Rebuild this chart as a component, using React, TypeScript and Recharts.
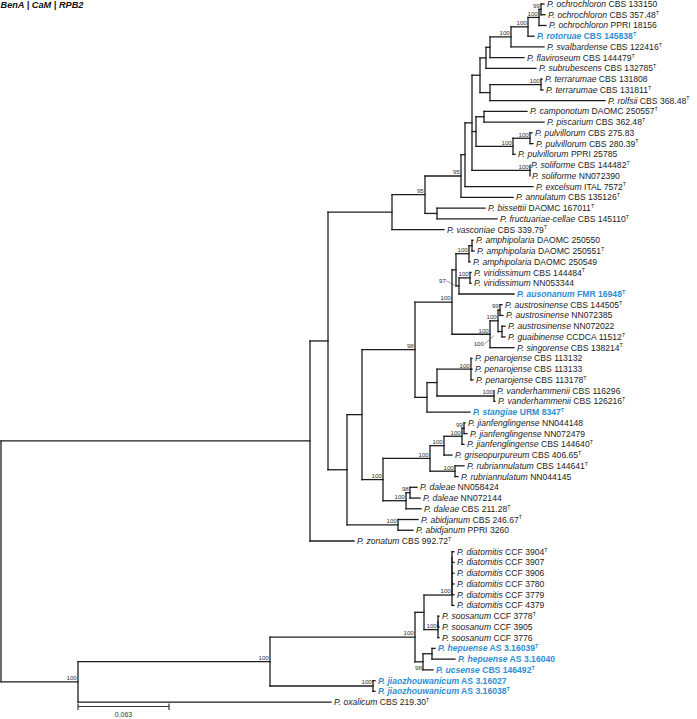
import React from 'react';
import { ComposedChart, XAxis, YAxis, Scatter, ReferenceLine } from 'recharts';

// leaves, top to bottom
const species = [
  'ochrochloron', 'ochrochloron', 'ochrochloron', 'rotoruae', 'svalbardense', 'flaviroseum', 'subrubescens',
  'terrarumae', 'terrarumae', 'rolfsii', 'camponotum', 'piscarium', 'pulvillorum', 'pulvillorum', 'pulvillorum',
  'soliforme', 'soliforme', 'excelsum', 'annulatum', 'bissettii', 'fructuariae-cellae', 'vasconiae',
  'amphipolaria', 'amphipolaria', 'amphipolaria', 'viridissimum', 'viridissimum', 'ausonanum',
  'austrosinense', 'austrosinense', 'austrosinense', 'guaibinense', 'singorense', 'penarojense', 'penarojense',
  'penarojense', 'vanderhammenii', 'vanderhammenii', 'stangiae', 'jianfenglingense', 'jianfenglingense',
  'jianfenglingense', 'griseopurpureum', 'rubriannulatum', 'rubriannulatum', 'daleae', 'daleae', 'daleae',
  'abidjanum', 'abidjanum', 'zonatum', 'diatomitis', 'diatomitis', 'diatomitis', 'diatomitis', 'diatomitis',
  'diatomitis', 'soosanum', 'soosanum', 'soosanum', 'hepuense', 'hepuense', 'ucsense', 'jiaozhouwanicum',
  'jiaozhouwanicum', 'oxalicum',
];

const strains = [
  'CBS 133150', 'CBS 357.48', 'PPRI 18156', 'CBS 145838', 'CBS 122416', 'CBS 144479', 'CBS 132785',
  'CBS 131808', 'CBS 131811', 'CBS 368.48', 'DAOMC 250557', 'CBS 362.48', 'CBS 275.83', 'CBS 280.39',
  'PPRI 25785', 'CBS 144482', 'NN072390', 'ITAL 7572', 'CBS 135126', 'DAOMC 167011', 'CBS 145110',
  'CBS 339.79', 'DAOMC 250550', 'DAOMC 250551', 'DAOMC 250549', 'CBS 144484', 'NN053344', 'FMR 16948',
  'CBS 144505', 'NN072385', 'NN072022', 'CCDCA 11512', 'CBS 138214', 'CBS 113132', 'CBS 113133',
  'CBS 113178', 'CBS 116296', 'CBS 126216', 'URM 8347', 'NN044148', 'NN072479', 'CBS 144640', 'CBS 406.65',
  'CBS 144641', 'NN044145', 'NN058424', 'NN072144', 'CBS 211.28', 'CBS 246.67', 'PPRI 3260', 'CBS 992.72',
  'CCF 3904', 'CCF 3907', 'CCF 3906', 'CCF 3780', 'CCF 3779', 'CCF 4379', 'CCF 3778', 'CCF 3905', 'CCF 3776',
  'AS 3.16039', 'AS 3.16040', 'CBS 146492', 'AS 3.16027', 'AS 3.16038', 'CBS 219.30',
];

// ex-type strains (superscript T) and newly described species (blue)
const typeStrains = [1, 3, 4, 5, 6, 8, 9, 10, 11, 13, 15, 17, 18, 19, 20, 21, 23, 25, 27, 28, 31, 32, 35, 37, 38,
  41, 42, 43, 47, 48, 50, 51, 57, 60, 62, 64, 65];
const newSpecies = [3, 27, 38, 60, 61, 62, 63, 64];

// distance from root of each tip (scale bar: 91 = 0.063)
const tipDepth = [
  544, 545, 546, 534, 544, 524, 536, 542, 543, 605,
  527, 544, 532, 533, 515, 528, 529, 533, 513, 485,
  497, 444, 473, 474, 470, 471, 471, 514, 502, 503,
  505, 505, 514, 472, 472, 473, 494, 495, 470, 465,
  467, 464, 452, 464, 458, 417, 420, 421, 418, 413,
  354, 454, 454, 454, 454, 454, 454, 439, 439, 439,
  435, 455, 433, 375, 375, 331,
];

type Clade = { id: string; depth: number; kids: (number | string)[]; support?: string };

const clades: Clade[] = [
  { id: 'och99', depth: 541, kids: [0, 1], support: '99' },
  { id: 'och100', depth: 539, kids: ['och99', 2], support: '100' },
  { id: 'rot', depth: 528, kids: ['och100', 3], support: '100' },
  { id: 'sval', depth: 511, kids: ['rot', 4], support: '100' },
  { id: 'flav', depth: 490, kids: ['sval', 5] },
  { id: 'subr', depth: 486, kids: ['flav', 6] },
  { id: 'terr', depth: 541, kids: [7, 8], support: '100' },
  { id: 'rolf', depth: 490, kids: ['terr', 9] },
  { id: 'c2', depth: 480, kids: ['subr', 'rolf'] },
  { id: 'pisc', depth: 484, kids: [10, 11] },
  { id: 'pulv1', depth: 530, kids: [12, 13], support: '100' },
  { id: 'pulv', depth: 513, kids: ['pulv1', 14], support: '100' },
  { id: 'z', depth: 476, kids: ['pisc', 'pulv'] },
  { id: 'sol', depth: 530, kids: [15, 16], support: '100' },
  { id: 'x', depth: 472, kids: ['c2', 'z', 'sol'] },
  { id: 'w', depth: 465, kids: ['x', 17] },
  { id: 'b95', depth: 461, kids: ['w', 18], support: '95' },
  { id: 'biss', depth: 437, kids: [19, 20] },
  { id: 'a95', depth: 425, kids: ['b95', 'biss'], support: '95' },
  { id: 'n392', depth: 392, kids: ['a95', 21] },
  { id: 'amp1', depth: 472, kids: [22, 23] },
  { id: 'amp', depth: 469, kids: ['amp1', 24], support: '100' },
  { id: 'vir', depth: 470, kids: [25, 26], support: '100' },
  { id: 's97', depth: 459, kids: ['vir', 27], support: '97' },
  { id: 'sa', depth: 456, kids: ['amp', 's97'] },
  { id: 'aus99', depth: 500, kids: [28, 29], support: '99' },
  { id: 'gua', depth: 502, kids: [30, 31], support: '100' },
  { id: 'aus100', depth: 498, kids: ['aus99', 'gua'], support: '100' },
  { id: 'austro', depth: 490, kids: ['aus100', 32], support: '100' },
  { id: 'n100', depth: 452, kids: ['sa', 'austro'], support: '100' },
  { id: 'pen', depth: 471, kids: [33, 34, 35], support: '100' },
  { id: 'van', depth: 494, kids: [36, 37], support: '100' },
  { id: 'n437', depth: 437, kids: ['pen', 'van'] },
  { id: 'n427', depth: 427, kids: ['n437', 38] },
  { id: 'n98', depth: 415, kids: ['n100', 'n427'], support: '98' },
  { id: 'jian99', depth: 464, kids: [39, 40], support: '99' },
  { id: 'jian100', depth: 462, kids: ['jian99', 41], support: '100' },
  { id: 'jian', depth: 444, kids: ['jian100', 42], support: '100' },
  { id: 'rubri', depth: 455, kids: [43, 44], support: '100' },
  { id: 'f', depth: 430, kids: ['jian', 'rubri'], support: '100' },
  { id: 'dal98', depth: 410, kids: [45, 46], support: '98' },
  { id: 'dal', depth: 406, kids: ['dal98', 47], support: '100' },
  { id: 'e', depth: 383, kids: ['f', 'dal'], support: '100' },
  { id: 'd', depth: 362, kids: ['n98', 'e'] },
  { id: 'abid', depth: 398, kids: [48, 49], support: '100' },
  { id: 'c', depth: 347, kids: ['d', 'abid'] },
  { id: 'b', depth: 328, kids: ['n392', 'c'] },
  { id: 'a', depth: 310, kids: ['b', 50] },
  { id: 'dia1', depth: 452, kids: [51, 52] },
  { id: 'dia2', depth: 452, kids: ['dia1', 53] },
  { id: 'dia3', depth: 452, kids: ['dia2', 54] },
  { id: 'dia4', depth: 452, kids: ['dia3', 55] },
  { id: 'dia', depth: 452, kids: ['dia4', 56], support: '100' },
  { id: 'soo1', depth: 438, kids: [57, 58] },
  { id: 'soo', depth: 438, kids: ['soo1', 59], support: '100' },
  { id: 'ds', depth: 424, kids: ['dia', 'soo'] },
  { id: 'hep2', depth: 432, kids: [60, 61] },
  { id: 'hep', depth: 423, kids: ['hep2', 62], support: '98' },
  { id: 'dg', depth: 415, kids: ['ds', 'hep'], support: '100' },
  { id: 'jiao', depth: 373, kids: [63, 64], support: '100' },
  { id: 'ingr', depth: 270, kids: ['dg', 'jiao'], support: '100' },
  { id: 'bot', depth: 78, kids: ['ingr', 65], support: '100' },
  { id: 'root', depth: 1, kids: ['a', 'bot'] },
];

const SCALE_START = 78;
const SCALE_LEN = 91;
const SCALE_TEXT = '0.063';

const W = 697;
const H = 719;
const ROW0 = 4;
const ROW = 10.74;
const yDomain: [number, number] = [-ROW0 / ROW, (H - ROW0) / ROW];
const pxToRow = (px: number) => (px - ROW0) / ROW;

const BLUE = '#2f8dd3';
const INK = '#1c1c1c';
const FONT = '"Liberation Sans", Arial, sans-serif';

const cladeMap = new Map(clades.map((c) => [c.id, c]));
const yCache = new Map<string, number>();
const yOf = (k: number | string): number => {
  if (typeof k === 'number') return k;
  if (yCache.has(k)) return yCache.get(k)!;
  const c = cladeMap.get(k)!;
  const v = (yOf(c.kids[0]) + yOf(c.kids[c.kids.length - 1])) / 2;
  yCache.set(k, v);
  return v;
};
const xOf = (k: number | string) => (typeof k === 'number' ? tipDepth[k] : cladeMap.get(k)!.depth);

const segments: { x1: number; y1: number; x2: number; y2: number }[] = [];
clades.forEach((c) => {
  const first = yOf(c.kids[0]);
  const last = yOf(c.kids[c.kids.length - 1]);
  segments.push({ x1: c.depth, y1: first, x2: c.depth, y2: last });
  c.kids.forEach((k) => {
    if (xOf(k) > c.depth) segments.push({ x1: c.depth, y1: yOf(k), x2: xOf(k), y2: yOf(k) });
  });
});

const leafData = species.map((s, i) => ({
  x: tipDepth[i],
  y: i,
  species: s,
  strain: strains[i],
  isType: typeStrains.includes(i),
  isNew: newSpecies.includes(i),
}));

const supportData = clades
  .filter((c) => c.support)
  .map((c) => ({ x: c.depth, y: yOf(c.id), id: c.id, support: c.support }));

// labels moved off their node, drawn with a small leader
const nudges: Record<string, { dx: number; dy: number; lead?: [number, number] }> = {
  s97: { dx: -13, dy: -3, lead: [-3, 0] },
  gua: { dx: -18, dy: 14.5, lead: [-8, 4] },
  hep: { dx: -1, dy: 8 },
};

const LeafLabel = (props: any) => {
  const { cx, cy, payload } = props;
  const color = payload.isNew ? BLUE : INK;
  return (
    <text x={cx + 3} y={cy} dy="0.35em" fontSize={8.6} fontFamily={FONT} fill={color}
      fontWeight={payload.isNew ? 700 : 400}>
      <tspan fontStyle="italic">P. {payload.species}</tspan>
      <tspan> {payload.strain}</tspan>
      {payload.isType && <tspan dy={-3.2} fontSize={5.4}>T</tspan>}
    </text>
  );
};

const SupportLabel = (props: any) => {
  const { cx, cy, payload } = props;
  const n = nudges[payload.id];
  const tx = cx + (n ? n.dx : -1.2);
  const ty = cy + (n ? n.dy : -1.6);
  return (
    <g>
      <text x={tx} y={ty} textAnchor="end" fontSize={6.2} fontFamily={FONT} fill="#333">
        {payload.support}
      </text>
      {n && n.lead && (
        <line x1={tx + 0.5} y1={ty - 2} x2={cx + n.lead[0]} y2={cy + n.lead[1]} stroke="#555" strokeWidth={0.6} />
      )}
    </g>
  );
};

const ScaleText = (props: any) => {
  const { cx, cy } = props;
  return (
    <text x={cx} y={cy} dy={4.6} textAnchor="middle" fontSize={7} fontFamily={FONT} fill="#333">
      {SCALE_TEXT}
    </text>
  );
};

const barY = pxToRow(706.5);
const scaleData = [{ x: SCALE_START + SCALE_LEN / 2, y: pxToRow(712) }];

export default function App() {
  return (
    <div style={{ position: 'absolute', left: 0, top: 0, width: W, height: H, background: '#fff' }}>
      <svg width={W} height={12} style={{ position: 'absolute', left: 0, top: 0 }}>
        <text x={0.5} y={7.6} fontSize={9.2} fontWeight={700} fontStyle="italic" fontFamily={FONT} fill="#111">
          BenA | CaM | RPB2
        </text>
      </svg>
      <ComposedChart width={W} height={H} margin={{ top: 0, right: 0, bottom: 0, left: 0 }}>
        <XAxis type="number" dataKey="x" domain={[0, W]} hide allowDataOverflow />
        <YAxis type="number" dataKey="y" domain={yDomain} reversed hide allowDataOverflow />
        {segments.map((s, i) => (
          <ReferenceLine
            key={`seg${i}`}
            segment={[{ x: s.x1, y: s.y1 }, { x: s.x2, y: s.y2 }]}
            stroke={INK}
            strokeWidth={1.3}
            strokeLinecap="square"
            ifOverflow="visible"
          />
        ))}
        <ReferenceLine segment={[{ x: SCALE_START, y: barY }, { x: SCALE_START + SCALE_LEN, y: barY }]}
          stroke="#333" strokeWidth={1.2} ifOverflow="visible" />
        <ReferenceLine segment={[{ x: SCALE_START, y: pxToRow(703.5) }, { x: SCALE_START, y: pxToRow(710) }]}
          stroke="#333" strokeWidth={1.2} ifOverflow="visible" />
        <ReferenceLine segment={[{ x: SCALE_START + SCALE_LEN, y: pxToRow(703.5) }, { x: SCALE_START + SCALE_LEN, y: pxToRow(710) }]}
          stroke="#333" strokeWidth={1.2} ifOverflow="visible" />
        <Scatter data={leafData} shape={LeafLabel} isAnimationActive={false} />
        <Scatter data={supportData} shape={SupportLabel} isAnimationActive={false} />
        <Scatter data={scaleData} shape={ScaleText} isAnimationActive={false} />
      </ComposedChart>
    </div>
  );
}
